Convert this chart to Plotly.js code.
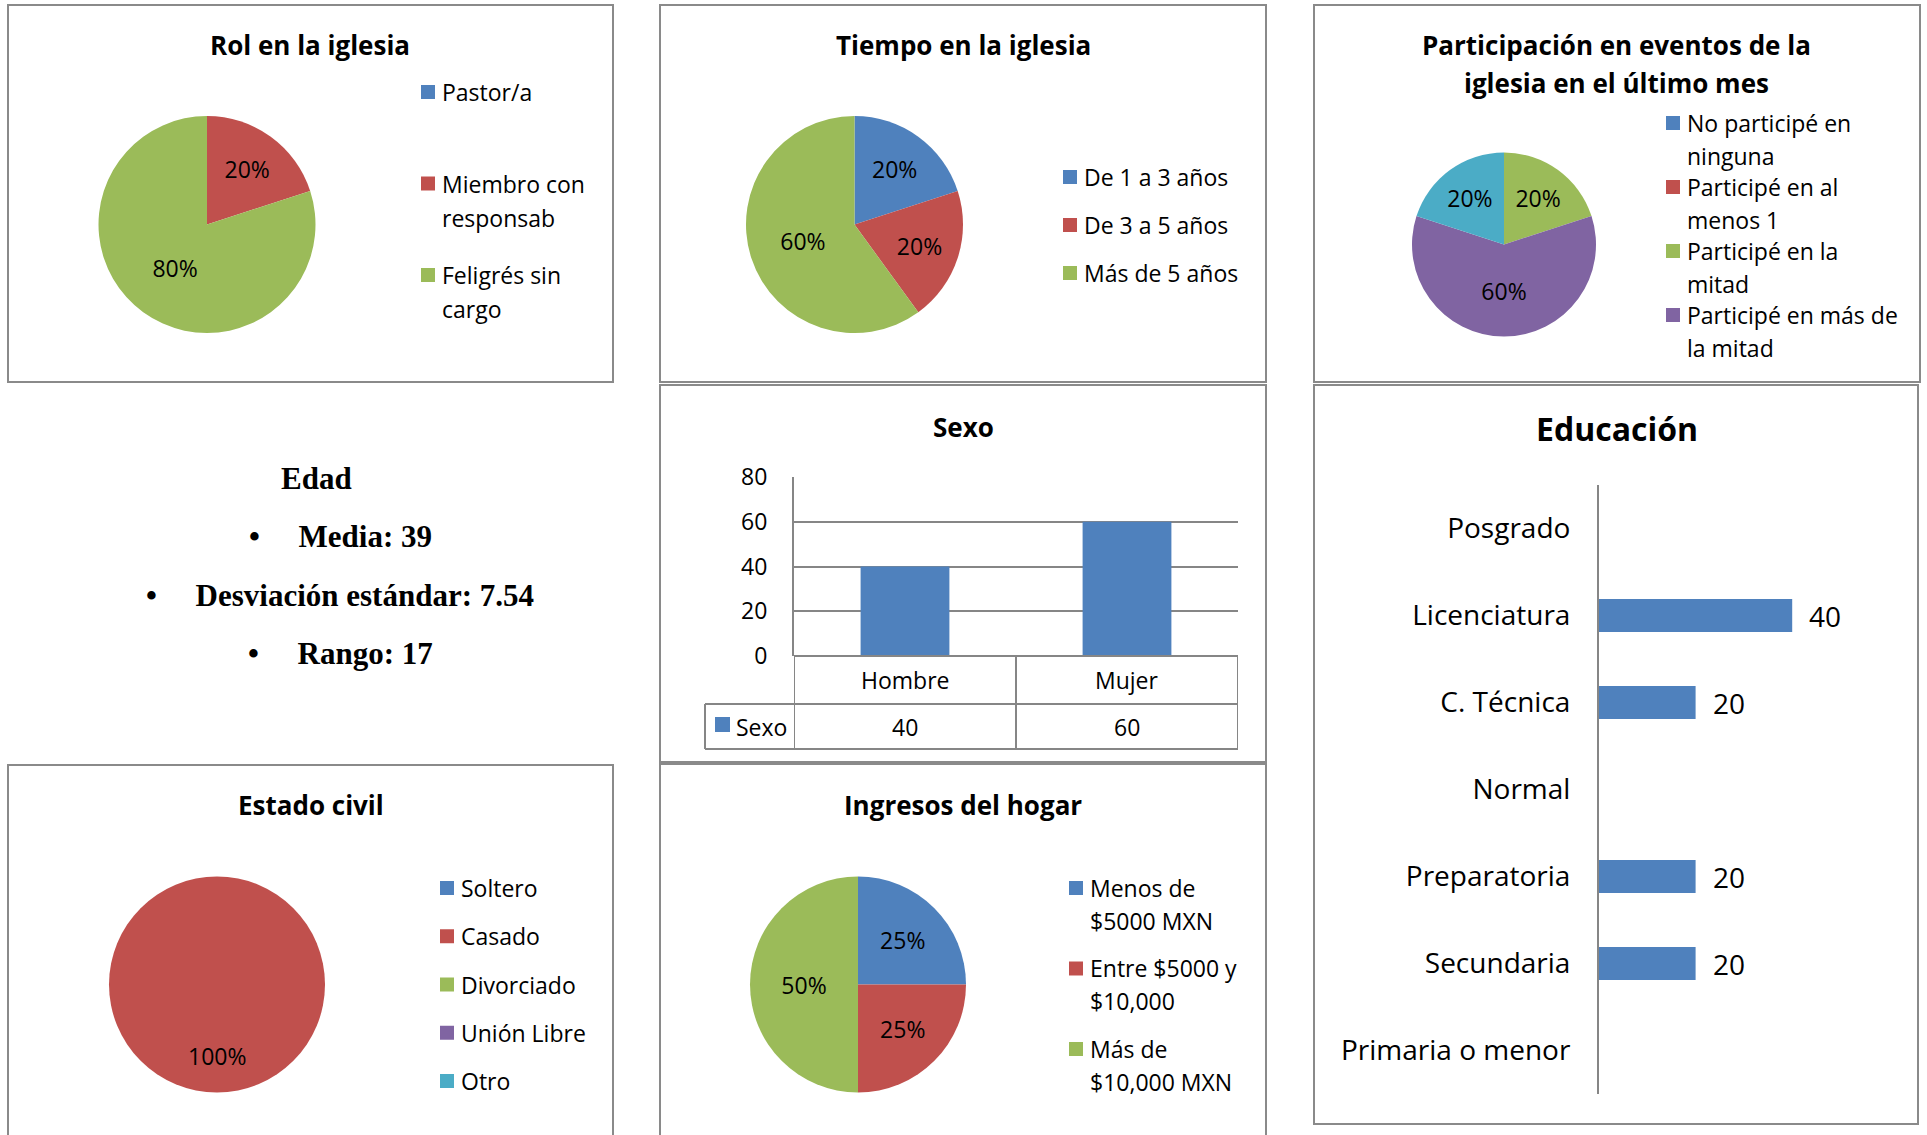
<!DOCTYPE html>
<html><head><meta charset="utf-8">
<script src="https://cdn.plot.ly/plotly-3.0.1.min.js"></script>
<style>html,body{margin:0;padding:0;background:#fff}#chart{width:1927px;height:1135px}</style>
</head><body><div id="chart"></div>
<script>
// ---------------- DATA ----------------
const rolTitle = "Rol en la iglesia";
const rolLabels = ["Pastor/a", "Miembro con responsab", "Feligrés sin cargo"];
const rolValues = [0, 20, 80];

const tiempoTitle = "Tiempo en la iglesia";
const tiempoLabels = ["De 1 a 3 años", "De 3 a 5 años", "Más de 5 años"];
const tiempoValues = [20, 20, 60];

const partTitle = ["Participación en eventos de la", "iglesia en el último mes"];
const partLabels = ["No participé en ninguna", "Participé en al menos 1", "Participé en la mitad", "Participé en más de la mitad", "(sin etiqueta)"];
const partValues = [0, 0, 20, 60, 20];
const partLegendCount = 4;

const sexoTitle = "Sexo";
const sexoCategories = ["Hombre", "Mujer"];
const sexoValues = [40, 60];
const sexoSeries = "Sexo";
const sexoTicks = [0, 20, 40, 60, 80];

const eduTitle = "Educación";
const eduCategories = ["Posgrado", "Licenciatura", "C. Técnica", "Normal", "Preparatoria", "Secundaria", "Primaria o menor"];
const eduValues = [0, 40, 20, 0, 20, 20, 0];

const civilTitle = "Estado civil";
const civilLabels = ["Soltero", "Casado", "Divorciado", "Unión Libre", "Otro"];
const civilValues = [0, 100, 0, 0, 0];

const ingresosTitle = "Ingresos del hogar";
const ingresosLabels = ["Menos de $5000 MXN", "Entre $5000 y $10,000", "Más de $10,000 MXN"];
const ingresosValues = [25, 25, 50];

const edadTitle = "Edad";
const edadLabels = ["Media", "Desviación estándar", "Rango"];
const edadValues = ["39", "7.54", "17"];

// ---------------- STYLE ----------------
const W = 1927, H = 1135;
const px = x => x / W;
const py = y => 1 - y / H;
const SANS = "Open Sans, sans-serif";
const SERIF = "Liberation Serif, Times New Roman, serif";
const BLUE = "#4F81BD", RED = "#C0504D", GREEN = "#9BBB59", PURPLE = "#8064A2", CYAN = "#4BACC6";
const PALETTE = [BLUE, RED, GREEN, PURPLE, CYAN];
const BORDER = "#8a8a8a";
const GRID = "#868686";

const shapes = [];
const annotations = [];
const traces = [];

function box(x0, y0, x1, y1) {
  shapes.push({type: "rect", xref: "paper", yref: "paper", x0: px(x0), x1: px(x1), y0: py(y1), y1: py(y0),
    line: {color: BORDER, width: 2}, fillcolor: "rgba(0,0,0,0)"});
}
function title(text, x, y, size, family) {
  annotations.push({text: text, xref: "paper", yref: "paper", x: px(x), y: py(y), xanchor: "center", yanchor: "middle",
    showarrow: false, font: {family: family || SANS, size: size || 26, color: "#000", weight: "bold"}});
}
function wrap(s, n) {
  const words = s.split(" "); const lines = []; let cur = "";
  words.forEach(w => {
    if (cur === "") cur = w;
    else if ((cur + " " + w).length <= n) cur += " " + w;
    else { lines.push(cur); cur = w; }
  });
  if (cur) lines.push(cur);
  return lines;
}
function legend(labels, colors, count, sqX, y0, itemGap, lineGap, wrapN) {
  for (let i = 0; i < count; i++) {
    const y = y0 + i * itemGap;
    shapes.push({type: "rect", xref: "paper", yref: "paper", x0: px(sqX), x1: px(sqX + 14), y0: py(y + 7), y1: py(y - 7),
      line: {width: 0}, fillcolor: colors[i]});
    wrap(labels[i], wrapN).forEach((ln, j) => {
      annotations.push({text: ln, xref: "paper", yref: "paper", x: px(sqX + 19), y: py(y + j * lineGap),
        xanchor: "left", yanchor: "middle", showarrow: false, font: {family: SANS, size: 23, color: "#000"}});
    });
  }
}
function pie(labels, values, colors, cx, cy, r) {
  const total = values.reduce((a, b) => a + b, 0);
  const full = values.some(v => v === total);
  traces.push({type: "pie", labels: labels, values: values, sort: false, direction: "clockwise", rotation: 0,
    marker: {colors: colors, line: {width: 0}},
    texttemplate: values.map(v => (v > 0 && !full) ? "%{percent}" : ""),
    textposition: "inside", insidetextorientation: "horizontal",
    insidetextfont: {family: SANS, size: 23, color: "#000"},
    hoverinfo: "label+percent", showlegend: false,
    domain: {x: [px(cx - r), px(cx + r)], y: [py(cy + r), py(cy - r)]}});
  if (full) {
    // a single slice filling the whole circle: its label sits on the slice's mid-angle (bottom), as in the original
    const v = values.find(v => v === total);
    annotations.push({text: Math.round(v / total * 100) + "%", xref: "paper", yref: "paper", x: px(cx), y: py(cy + 0.66 * r),
      xanchor: "center", yanchor: "middle", showarrow: false, font: {family: SANS, size: 23, color: "#000"}});
  }
}

// ---------------- PANELS ----------------
// Rol en la iglesia
box(8, 5, 613, 382);
title(rolTitle, 310, 45);
pie(rolLabels, rolValues, PALETTE, 207, 224.5, 108.5);
legend(rolLabels, PALETTE, rolLabels.length, 421, 92, 91.5, 34, 12);

// Tiempo en la iglesia
box(660, 5, 1266, 382);
title(tiempoTitle, 963, 45);
pie(tiempoLabels, tiempoValues, PALETTE, 854.5, 224.5, 108.5);
legend(tiempoLabels, PALETTE, tiempoLabels.length, 1063, 177, 48, 33, 20);

// Participación
box(1314, 5, 1920, 382);
title(partTitle[0], 1616, 45);
title(partTitle[1], 1616, 83);
pie(partLabels, partValues, PALETTE, 1504, 244.5, 92);
legend(partLabels, PALETTE, partLegendCount, 1666, 123, 64, 32.5, 19);

// Edad
annotations.push({text: edadTitle, xref: "paper", yref: "paper", x: px(316), y: py(478), xanchor: "center", yanchor: "middle",
  showarrow: false, font: {family: SERIF, size: 31, color: "#000", weight: "bold"}});
edadLabels.forEach((l, i) => {
  annotations.push({text: "\u2022\u00a0\u00a0\u00a0\u00a0\u00a0" + l + ": " + edadValues[i], xref: "paper", yref: "paper",
    x: px(340), y: py(536 + i * 59), xanchor: "center", yanchor: "middle", showarrow: false,
    font: {family: SERIF, size: 31, color: "#000", weight: "bold"}});
});

// Sexo
box(660, 385, 1266, 762);
title(sexoTitle, 963, 427);
traces.push({type: "bar", x: sexoCategories, y: sexoValues, xaxis: "x", yaxis: "y", width: 0.4,
  marker: {color: BLUE}, showlegend: false, hoverinfo: "x+y"});
// data table
const TL = GRID;
shapes.push({type: "line", xref: "x", yref: "paper", x0: -0.5, x1: 1.5, y0: py(656), y1: py(656), line: {color: TL, width: 2}});
shapes.push({type: "line", xref: "paper", yref: "paper", x0: px(705), x1: px(1238), y0: py(704), y1: py(704), line: {color: TL, width: 2}});
shapes.push({type: "line", xref: "paper", yref: "paper", x0: px(705), x1: px(1238), y0: py(749), y1: py(749), line: {color: TL, width: 2}});
[-0.5, 0.5, 1.5].forEach(xv => shapes.push({type: "line", xref: "x", yref: "paper", x0: xv, x1: xv, y0: py(656), y1: py(749), line: {color: TL, width: 2}}));
shapes.push({type: "line", xref: "paper", yref: "paper", x0: px(705), x1: px(705), y0: py(704), y1: py(749), line: {color: TL, width: 2}});
sexoCategories.forEach((c, i) => {
  annotations.push({text: c, xref: "x", yref: "paper", x: c, y: py(680), xanchor: "center", yanchor: "middle",
    showarrow: false, font: {family: SANS, size: 23, color: "#000"}});
  annotations.push({text: String(sexoValues[i]), xref: "x", yref: "paper", x: c, y: py(727), xanchor: "center", yanchor: "middle",
    showarrow: false, font: {family: SANS, size: 23, color: "#000"}});
});
shapes.push({type: "rect", xref: "paper", yref: "paper", x0: px(715), x1: px(730), y0: py(732), y1: py(717), line: {width: 0}, fillcolor: BLUE});
annotations.push({text: sexoSeries, xref: "paper", yref: "paper", x: px(734), y: py(727), xanchor: "left", yanchor: "middle",
  showarrow: false, font: {family: SANS, size: 23, color: "#000"}});

// Educación
box(1314, 385, 1918, 1124);
title(eduTitle, 1617, 428, 32);
traces.push({type: "bar", orientation: "h", x: eduValues, y: eduCategories, xaxis: "x2", yaxis: "y2", width: 0.38,
  marker: {color: BLUE}, showlegend: false, hoverinfo: "x+y"});
eduValues.forEach((v, i) => {
  if (v > 0) annotations.push({text: String(v), xref: "x2", yref: "y2", x: v, y: eduCategories[i], xanchor: "left", yanchor: "middle",
    xshift: 15, showarrow: false, font: {family: SANS, size: 28, color: "#000"}});
});

// Estado civil
box(8, 765, 613, 1145);
title(civilTitle, 311, 805);
pie(civilLabels, civilValues, PALETTE, 217, 984.5, 108);
legend(civilLabels, PALETTE, civilLabels.length, 440, 888, 48.25, 33, 20);

// Ingresos del hogar
box(660, 764, 1266, 1145);
title(ingresosTitle, 963, 805);
pie(ingresosLabels, ingresosValues, PALETTE, 858, 984.5, 108);
legend(ingresosLabels, PALETTE, ingresosLabels.length, 1069, 888, 80.5, 32.5, 13);

const layout = {
  width: W, height: H, autosize: false,
  margin: {l: 0, r: 0, t: 0, b: 0, pad: 0},
  paper_bgcolor: "#fff", plot_bgcolor: "rgba(0,0,0,0)",
  showlegend: false,
  font: {family: SANS, color: "#000"},
  xaxis: {domain: [px(794), px(1238)], anchor: "y", type: "category", range: [-0.5, 1.5],
    showticklabels: false, showgrid: false, zeroline: false, showline: false, fixedrange: true},
  yaxis: {domain: [py(656), py(477)], anchor: "x", range: [0, 80], tickvals: sexoTicks,
    showgrid: true, gridcolor: GRID, gridwidth: 2, showline: true, linecolor: GRID, linewidth: 2,
    zeroline: false, ticks: "", ticklabelstandoff: 20, tickfont: {family: SANS, size: 23, color: "#000"}, fixedrange: true},
  xaxis2: {domain: [px(1599), px(1599 + 4.83 * 60)], anchor: "y2", range: [0, 60], visible: false, fixedrange: true},
  yaxis2: {domain: [py(1094), py(485)], anchor: "x2", type: "category", categoryorder: "array", categoryarray: eduCategories,
    range: [6.5, -0.5], showline: true, linecolor: GRID, linewidth: 2, showgrid: false, zeroline: false,
    ticks: "", ticklabelstandoff: 21, tickfont: {family: SANS, size: 28, color: "#000"}, fixedrange: true},
  shapes: shapes,
  annotations: annotations
};

Plotly.newPlot("chart", traces, layout, {staticPlot: true, displayModeBar: false});
</script>
</body></html>
